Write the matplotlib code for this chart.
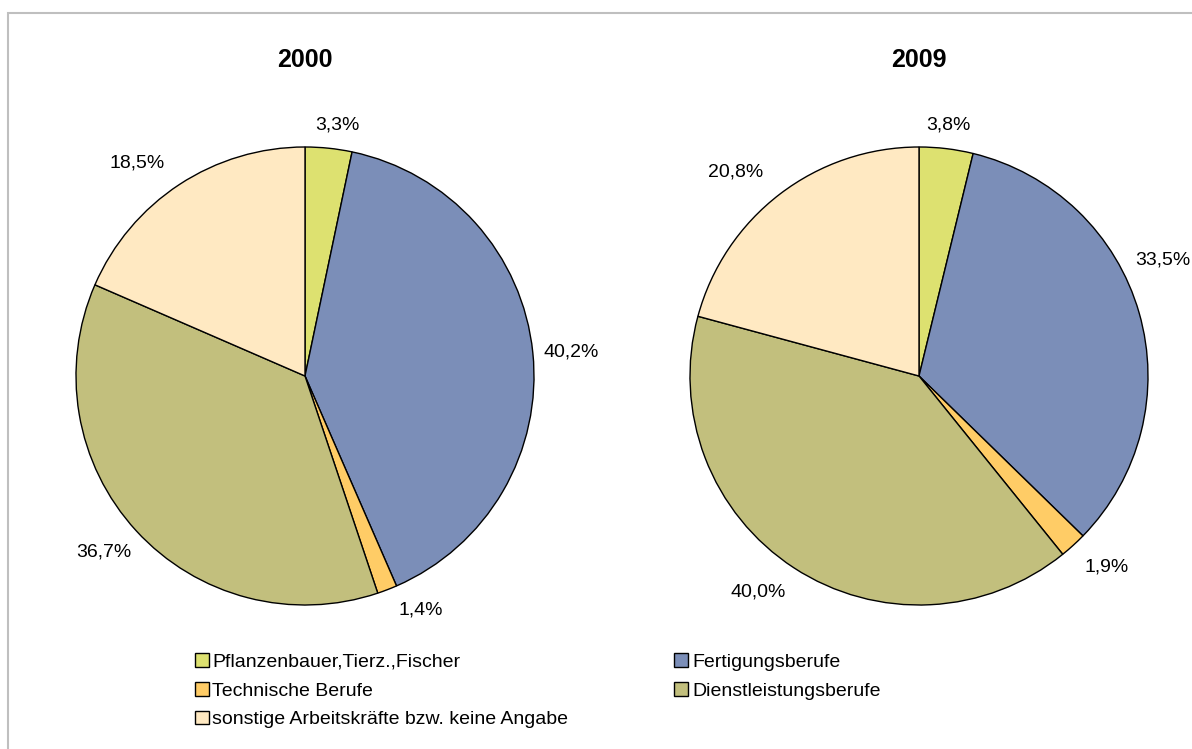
import matplotlib
matplotlib.use("Agg")
import matplotlib.pyplot as plt
from matplotlib.patches import Rectangle, Patch

plt.rcParams["font.family"] = ["Liberation Sans", "DejaVu Sans"]

CATEGORIES = [
    "Pflanzenbauer,Tierz.,Fischer",
    "Fertigungsberufe",
    "Technische Berufe",
    "Dienstleistungsberufe",
    "sonstige Arbeitskräfte bzw. keine Angabe",
]
COLORS = ["#DDE170", "#7B8EB8", "#FFCC66", "#C2BF7D", "#FFE9C2"]
YEARS = ["2000", "2009"]
SHARES_2000 = [3.3, 40.2, 1.4, 36.7, 18.5]
SHARES_2009 = [3.8, 33.5, 1.9, 40.0, 20.8]
LABELS_2000 = ["3,3%", "40,2%", "1,4%", "36,7%", "18,5%"]
LABELS_2009 = ["3,8%", "33,5%", "1,9%", "40,0%", "20,8%"]

# where the percentage labels sit (pixels from top-left)
LABEL_POS_2000 = [(337, 125), (571, 352), (421, 610), (104, 552), (137, 163)]
LABEL_POS_2009 = [(948, 125), (1163, 260), (1107, 567), (758, 592), (736, 172)]

W, H = 1192, 749
fig = plt.figure(figsize=(W / 100, H / 100), dpi=100)
ax = fig.add_axes([0, 0, 1, 1])

# outer frame
ax.add_patch(Rectangle((8, -10), W + 20, H - 13 + 10, fill=False,
                       edgecolor="#BFBFBF", linewidth=1.5))

centers = [(305, H - 376), (919, H - 376)]
radius = 229
for year, shares, labels, positions, (cx, cy) in zip(
        YEARS, [SHARES_2000, SHARES_2009], [LABELS_2000, LABELS_2009],
        [LABEL_POS_2000, LABEL_POS_2009], centers):
    ax.pie(shares, colors=COLORS, startangle=90, counterclock=False,
           center=(cx, cy), radius=radius,
           wedgeprops={"edgecolor": "black", "linewidth": 1.0})
    for lab, (px, py) in zip(labels, positions):
        ax.text(px, H - py, lab, ha="center", va="center", fontsize=14)
    ax.text(cx, H - 60, year, ha="center", va="center", fontsize=18, fontweight="bold")

# pie() resets the limits
ax.set_xlim(0, W)
ax.set_ylim(0, H)
ax.set_aspect("equal")
ax.axis("off")

order = [0, 2, 4, 1, 3]
handles = [Patch(facecolor=COLORS[i], edgecolor="black", linewidth=1.0) for i in order]
ax.legend(handles, [CATEGORIES[i] for i in order], ncol=2, frameon=False,
          loc="upper left", bbox_to_anchor=(195 / W, 1 - 653 / H),
          fontsize=14, handlelength=0.72, handleheight=0.72, handletextpad=0.18,
          labelspacing=0.57, columnspacing=5.45, borderpad=0, borderaxespad=0)

fig.savefig("out.png", dpi=100)
